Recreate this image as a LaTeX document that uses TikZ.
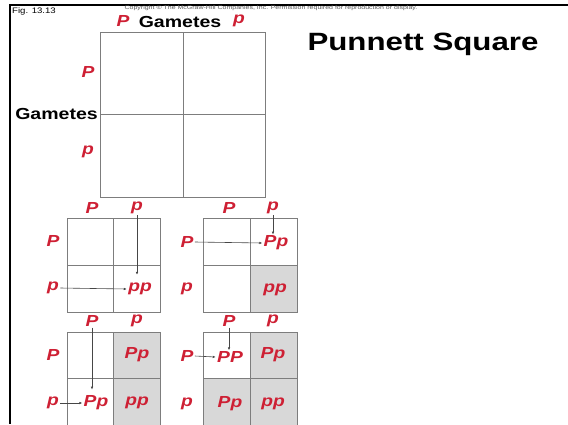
\documentclass[tikz,border=0pt]{standalone}
\usepackage{fontspec}
\setmainfont{Liberation Sans}
\setsansfont{Liberation Sans}
\usepackage{xcolor}
\usepackage{tikz}
\usetikzlibrary{arrows.meta, positioning, calc}
\definecolor{alleleRed}{RGB}{206,32,52}
\definecolor{gridGray}{RGB}{125,125,125}
\definecolor{cellShade}{RGB}{216,216,216}
\definecolor{arrowGray}{RGB}{70,70,70}
\tikzset{
  allele/.style={
    font=\fontsize{16}{16}\selectfont\bfseries\itshape,
    text=alleleRed, inner sep=1pt, xscale=1.2
  },
  gamlabel/.style={
    font=\fontsize{16}{16}\selectfont\bfseries, inner sep=0pt, xscale=1.22
  },
  gridline/.style={draw=gridGray, line width=0.8pt},
  shadecell/.style={fill=cellShade},
  genearrow/.style={
    -{Latex[length=3pt,width=2.6pt]}, draw=arrowGray, line width=0.6pt
  },
}
\begin{document}
\begin{tikzpicture}[x=1pt, y=-1pt]
  \useasboundingbox (0,0) rectangle (568,424);

  % Frame and captions
  \draw[line width=2.4pt] (568,5) -- (10,5) -- (10,424);
  \node[font=\fontsize{8}{8}\selectfont, anchor=west, inner sep=0pt,
    xscale=1.2] (figLabel) at (12,11) {Fig. 13.13};
  \node[font=\fontsize{5.6}{5.6}\selectfont, text=gray!70!black,
    inner sep=0pt, xscale=1.25] (copyright) at (271,8)
    {Copyright \textcopyright{} The McGraw-Hill Companies, Inc. Permission
     required for reproduction or display.};
  \node[font=\fontsize{25}{25}\selectfont\bfseries, inner sep=0pt,
    xscale=1.25] (title) at (423,44) {Punnett Square};

  % Empty Punnett square
  \draw[gridline] (100,32) rectangle (265,197);
  \draw[gridline] (183,32) -- (183,197);
  \draw[gridline] (100,114) -- (265,114);
  \node[gamlabel] (topGametes) at (180,22) {Gametes};
  \node[gamlabel, anchor=east] (leftGametes) at (98,114) {Gametes};
  \node[allele] (bigTopP) at (123,21) {P};
  \node[allele] (bigTopp) at (239,21) {p};
  \node[allele] (bigLeftP) at (88,72) {P};
  \node[allele] (bigLeftp) at (88,152) {p};

  % Step 1: pp
  \draw[gridline] (67,218) rectangle (160,312);
  \draw[gridline] (113,218) -- (113,312);
  \draw[gridline] (67,265) -- (160,265);
  \node[allele] (aTopP) at (92,208) {P};
  \node[allele] (aTopp) at (137,208) {p};
  \node[allele] (aLeftP) at (53,241) {P};
  \node[allele] (aLeftp) at (53,288) {p};
  \node[allele] (aCellpp) at (140,289) {pp};
  \draw[genearrow] (aTopp.south) -- ([yshift=7pt]aTopp.south |- aCellpp.north);
  \draw[genearrow] (aLeftp.east) -- (aCellpp.west);

  % Step 2: Pp
  \fill[shadecell] (250,265) rectangle (297,312);
  \draw[gridline] (203,218) rectangle (297,312);
  \draw[gridline] (250,218) -- (250,312);
  \draw[gridline] (203,265) -- (297,265);
  \node[allele] (bTopP) at (229,208) {P};
  \node[allele] (bTopp) at (273,208) {p};
  \node[allele] (bLeftP) at (187,242) {P};
  \node[allele] (bLeftp) at (187,289) {p};
  \node[allele] (bCellPp) at (276,243) {Pp};
  \node[allele] (bCellpp) at (275,290) {pp};
  \draw[genearrow] (bTopp.south) -- (bTopp.south |- bCellPp.north);
  \draw[genearrow] (bLeftP.east) -- (bCellPp.west);

  % Step 3: Pp
  \fill[shadecell] (113,332) rectangle (160,426);
  \draw[gridline] (67,332) rectangle (160,426);
  \draw[gridline] (113,332) -- (113,426);
  \draw[gridline] (67,378) -- (160,378);
  \node[allele] (cTopP) at (92,321) {P};
  \node[allele] (cTopp) at (137,321) {p};
  \node[allele] (cLeftP) at (53,355) {P};
  \node[allele] (cLeftp) at (53,403) {p};
  \node[allele] (cCellPp) at (96,403) {Pp};
  \node[allele] (cCellPpb) at (137,355) {Pp};
  \node[allele] (cCellpp) at (137,403) {pp};
  \draw[genearrow] (cTopP.south) -- ([yshift=5pt]cTopP.south |- cCellPp.north);
  \draw[genearrow] (cLeftp.east) -- (cCellPp.west);

  % Step 4: PP
  \fill[shadecell] (250,332) rectangle (297,426);
  \fill[shadecell] (203,378) rectangle (250,426);
  \draw[gridline] (203,332) rectangle (297,426);
  \draw[gridline] (250,332) -- (250,426);
  \draw[gridline] (203,378) -- (297,378);
  \node[allele] (dTopP) at (229,321) {P};
  \node[allele] (dTopp) at (273,321) {p};
  \node[allele] (dLeftP) at (187,356) {P};
  \node[allele] (dLeftp) at (187,404) {p};
  \node[allele] (dCellPP) at (230,357) {PP};
  \node[allele] (dCellPpa) at (273,355) {Pp};
  \node[allele] (dCellPpb) at (230,404) {Pp};
  \node[allele] (dCellpp) at (273,404) {pp};
  \draw[genearrow] (dTopP.south) -- (dTopP.south |- dCellPP.north);
  \draw[genearrow] (dLeftP.east) -- (dCellPP.west);
\end{tikzpicture}
\end{document}
